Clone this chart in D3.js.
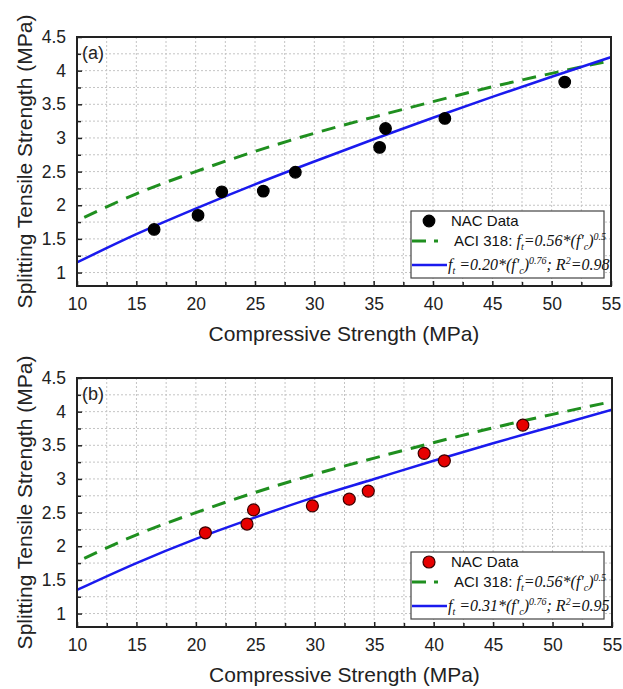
<!DOCTYPE html>
<html>
<head>
<meta charset="utf-8">
<script src="https://cdn.jsdelivr.net/npm/d3@7"></script>
<style>
  html, body { margin: 0; padding: 0; background: #fff; }
  svg { display: block; }
</style>
</head>
<body>
<svg id="chart" width="623" height="689"></svg>
<script>
// ---------------- DATA ----------------
const xTickValues = [10, 15, 20, 25, 30, 35, 40, 45, 50, 55];
const yTickValues = [1, 1.5, 2, 2.5, 3, 3.5, 4, 4.5];
const xTitle = "Compressive Strength (MPa)";
const yTitle = "Splitting Tensile Strength (MPa)";

// Panel (a) NAC data
const nacAx = [16.5, 20.2, 22.2, 25.7, 28.4, 35.5, 36.0, 41.0, 51.1];
const nacAy = [1.64, 1.85, 2.20, 2.21, 2.49, 2.86, 3.14, 3.29, 3.83];
// Panel (b) NAC data
const nacBx = [20.8, 24.3, 24.85, 29.8, 32.9, 34.5, 39.2, 40.9, 47.5];
const nacBy = [2.20, 2.33, 2.54, 2.60, 2.70, 2.82, 3.38, 3.27, 3.80];

// Curves (values read at x = 10, 15, ..., 55)
const curveX = [10, 15, 20, 25, 30, 35, 40, 45, 50, 55];
const aciY   = [1.77, 2.17, 2.50, 2.80, 3.07, 3.31, 3.54, 3.76, 3.96, 4.15];
const fitAY  = [1.15, 1.57, 1.95, 2.31, 2.65, 2.98, 3.30, 3.61, 3.91, 4.20];
const fitBY  = [1.35, 1.75, 2.11, 2.43, 2.73, 3.00, 3.27, 3.53, 3.78, 4.03];

const panelLabels = ["(a)", "(b)"];
const legendData = "NAC Data";
const legendAci = [["ACI 318: ", "sans"], ["f", "it"], ["t", "sub"], ["=0.56*(", "it"], ["f'", "it"], ["c", "sub"], [")", "it"], ["0.5", "sup"]];
const legendFitA = [["f", "it"], ["t", "sub"], [" =0.20*(", "it"], ["f'", "it"], ["c", "sub"], [")", "it"], ["0.76", "sup"], ["; R", "it"], ["2", "sup"], ["=0.98", "it"]];
const legendFitB = [["f", "it"], ["t", "sub"], [" =0.31*(", "it"], ["f'", "it"], ["c", "sub"], [")", "it"], ["0.76", "sup"], ["; R", "it"], ["2", "sup"], ["=0.95", "it"]];

// ---------------- DRAW ----------------
const svg = d3.select("#chart");
const SANS = "'Liberation Sans', Arial, sans-serif";
const SERIF = "'Liberation Serif', 'Times New Roman', serif";
const GREEN = "#1f8f1f";
const BLUE = "#1a1aee";

function richText(sel, parts, x, y) {
  const t = sel.append("text").attr("x", x).attr("y", y).attr("font-size", 14.5).attr("fill", "#111");
  let shift = 0;
  parts.forEach(([txt, type]) => {
    const ts = t.append("tspan").text(txt);
    let target = 0;
    if (type === "sans") { ts.attr("font-family", SANS).attr("font-size", 15); }
    else {
      ts.attr("font-family", SERIF).attr("font-style", "italic");
      if (type === "sub") { ts.attr("font-size", 10); target = 4; }
      else if (type === "sup") { ts.attr("font-size", 10); target = -6; }
      else { ts.attr("font-size", 16); }
    }
    if (target !== shift) { ts.attr("dy", target - shift); shift = target; }
  });
  return t;
}

function drawPanel(cfg) {
  const { top, bottom, left, right, px, py, fitY, fitLegend, label, markerFill, markerStroke, markerR } = cfg;
  const x = d3.scaleLinear().domain([10, 55]).range([left, right]);
  const y = d3.scaleLinear().domain([0.8, 4.5]).range([bottom, top]);
  const g = svg.append("g");

  const clipId = "clip" + label.replace(/\W/g, "");
  svg.append("clipPath").attr("id", clipId).append("rect")
    .attr("x", left).attr("y", top).attr("width", right - left).attr("height", bottom - top);

  // grid
  const xGrid = d3.range(10, 55.01, 2.5);
  const yGrid = d3.range(1, 4.5, 0.25);
  g.append("g").selectAll("line").data(xGrid.filter(v => v > 10 && v < 55)).join("line")
    .attr("x1", d => x(d)).attr("x2", d => x(d)).attr("y1", top).attr("y2", bottom)
    .attr("stroke", "#c4c4c4").attr("stroke-width", 1).attr("stroke-dasharray", "2,2");
  g.append("g").selectAll("line").data(yGrid).join("line")
    .attr("x1", left).attr("x2", right).attr("y1", d => y(d)).attr("y2", d => y(d))
    .attr("stroke", "#c4c4c4").attr("stroke-width", 1).attr("stroke-dasharray", "2,2");

  // curves
  const line = d3.line().x(d => x(d[0])).y(d => y(d[1])).curve(d3.curveMonotoneX);
  const cg = g.append("g").attr("clip-path", `url(#${clipId})`);
  cg.append("path").datum(curveX.map((v, i) => [v, aciY[i]]))
    .attr("d", line).attr("fill", "none").attr("stroke", GREEN)
    .attr("stroke-width", 3).attr("stroke-dasharray", "14,9").attr("stroke-dashoffset", -8);
  cg.append("path").datum(curveX.map((v, i) => [v, fitY[i]]))
    .attr("d", line).attr("fill", "none").attr("stroke", BLUE).attr("stroke-width", 2.5);

  // points
  g.append("g").selectAll("circle").data(px.map((v, i) => [v, py[i]])).join("circle")
    .attr("cx", d => x(d[0])).attr("cy", d => y(d[1])).attr("r", markerR)
    .attr("fill", markerFill).attr("stroke", markerStroke).attr("stroke-width", 1.2);

  // axes
  const yAxis = d3.axisLeft(y).tickValues(yTickValues).tickFormat(d3.format("~g")).tickSize(-5).tickPadding(11);
  const yAxisMinor = d3.axisLeft(y).tickValues(d3.range(1.25, 4.5, 0.5)).tickFormat("").tickSize(-4);
  const xAxis = d3.axisBottom(x).tickValues(xTickValues).tickFormat(d3.format("d")).tickSize(-5).tickPadding(12);
  const xAxisMinor = d3.axisBottom(x).tickValues(d3.range(12.5, 55, 5)).tickFormat("").tickSize(-4);

  const styleAxis = a => {
    a.select(".domain").remove();
    a.selectAll("line").attr("stroke", "#222").attr("stroke-width", 1.5);
    a.selectAll("text").attr("font-family", SANS).attr("font-size", 17.5).attr("fill", "#222");
  };
  g.append("g").attr("transform", `translate(${left},0)`).call(yAxis).call(styleAxis);
  g.append("g").attr("transform", `translate(${left},0)`).call(yAxisMinor).call(styleAxis);
  g.append("g").attr("transform", `translate(0,${bottom})`).call(xAxis).call(styleAxis);
  g.append("g").attr("transform", `translate(0,${bottom})`).call(xAxisMinor).call(styleAxis);

  // frame
  g.append("rect").attr("x", left).attr("y", top).attr("width", right - left).attr("height", bottom - top)
    .attr("fill", "none").attr("stroke", "#222").attr("stroke-width", 2);

  // panel label
  g.append("text").attr("x", left + 5).attr("y", top + 22).text(label)
    .attr("font-family", SANS).attr("font-size", 18).attr("fill", "#222");

  // titles
  g.append("text").attr("x", (left + right) / 2).attr("y", bottom + 55).attr("text-anchor", "middle")
    .attr("font-family", SANS).attr("font-size", 21).attr("fill", "#222").text(xTitle);
  g.append("text").attr("transform", `translate(32,${(top + bottom) / 2}) rotate(-90)`).attr("text-anchor", "middle")
    .attr("font-family", SANS).attr("font-size", 21).attr("fill", "#222").text(yTitle);

  // legend
  const lx = 411, lw = 193, ly = bottom - 75, lh = 67;
  const lg = g.append("g");
  lg.append("rect").attr("x", lx).attr("y", ly).attr("width", lw).attr("height", lh)
    .attr("fill", "#fff").attr("stroke", "#444").attr("stroke-width", 1.2);
  lg.append("circle").attr("cx", lx + 18).attr("cy", ly + 10).attr("r", markerR)
    .attr("fill", markerFill).attr("stroke", markerStroke).attr("stroke-width", 1.2);
  lg.append("text").attr("x", lx + 40).attr("y", ly + 15).text(legendData)
    .attr("font-family", SANS).attr("font-size", 15).attr("fill", "#111");
  lg.append("line").attr("x1", lx + 1).attr("x2", lx + 27).attr("y1", ly + 30).attr("y2", ly + 30)
    .attr("stroke", GREEN).attr("stroke-width", 3).attr("stroke-dasharray", "14,8");
  richText(lg, legendAci, lx + 43, ly + 35);
  lg.append("line").attr("x1", lx + 1).attr("x2", lx + 36).attr("y1", ly + 54).attr("y2", ly + 54)
    .attr("stroke", BLUE).attr("stroke-width", 2.5);
  richText(lg, fitLegend, lx + 37, ly + 59);
}

drawPanel({ top: 37, bottom: 286, left: 77, right: 611, px: nacAx, py: nacAy, fitY: fitAY,
  fitLegend: legendFitA, label: panelLabels[0], markerFill: "#000", markerStroke: "#000", markerR: 5.8 });
drawPanel({ top: 378, bottom: 627, left: 77, right: 612, px: nacBx, py: nacBy, fitY: fitBY,
  fitLegend: legendFitB, label: panelLabels[1], markerFill: "#e60000", markerStroke: "#3a0000", markerR: 6 });
</script>
</body>
</html>
